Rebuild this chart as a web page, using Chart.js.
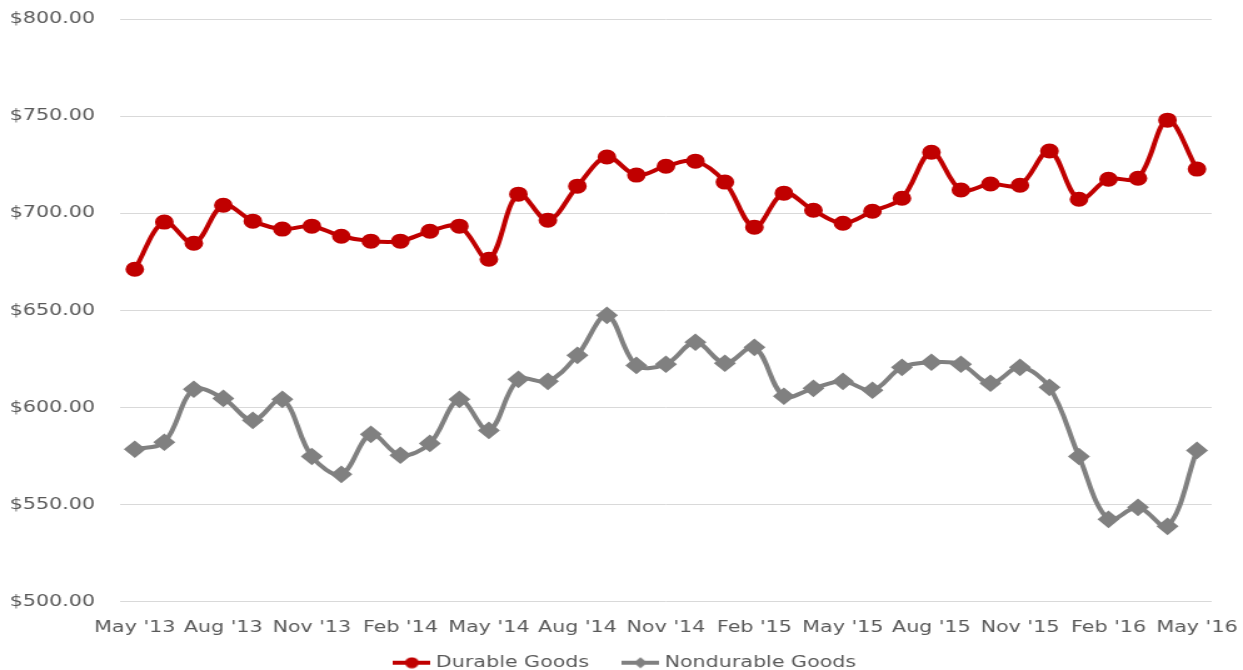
<!DOCTYPE html>
<html>
<head>
<meta charset="utf-8">
<script src="https://cdn.jsdelivr.net/npm/chart.js@4/dist/chart.umd.min.js"></script>
<style>
html,body{margin:0;padding:0;background:#fff;overflow:hidden;}
#wrap{width:994px;height:670px;position:relative;transform:scaleX(1.2505);transform-origin:0 0;}
</style>
</head>
<body>
<div id="wrap"><canvas id="c"></canvas></div>
<script>
const categories = ["May '13","Jun '13","Jul '13","Aug '13","Sep '13","Oct '13","Nov '13","Dec '13","Jan '14","Feb '14","Mar '14","Apr '14","May '14","Jun '14","Jul '14","Aug '14","Sep '14","Oct '14","Nov '14","Dec '14","Jan '15","Feb '15","Mar '15","Apr '15","May '15","Jun '15","Jul '15","Aug '15","Sep '15","Oct '15","Nov '15","Dec '15","Jan '16","Feb '16","Mar '16","Apr '16","May '16"];
const durableGoods = [671.1,695.4,684.5,704.1,695.9,691.8,693.3,688.1,685.6,685.6,690.7,693.3,676.3,709.8,696.4,713.9,728.9,719.6,724.2,726.8,716.0,692.8,710.3,701.5,694.8,701.0,707.7,731.4,711.9,715.0,714.4,732.0,707.2,717.5,718.0,747.9,722.7];
const nondurableGoods = [578.4,582.0,609.3,604.6,593.3,604.1,574.7,565.5,586.1,575.3,581.4,604.1,588.1,614.4,613.4,626.8,647.4,621.6,622.2,633.5,622.7,630.9,605.7,609.8,613.4,608.8,620.6,623.2,622.2,612.4,620.6,610.3,574.7,542.3,548.5,538.7,577.8];
const yTicks = [500,550,600,650,700,750,800];

const RED = '#C00000', GRAY = '#808080', TXT = '#595959';
const FONT = 'DejaVu Sans';

function legendIcon(color, style){
  const cv = document.createElement('canvas');
  cv.width = 30; cv.height = 12;
  const g = cv.getContext('2d');
  g.strokeStyle = color; g.lineWidth = 4;
  g.beginPath(); g.moveTo(0,6); g.lineTo(30,6); g.stroke();
  g.fillStyle = color;
  g.beginPath();
  if (style === 'circle') { g.arc(15,6,5.5,0,Math.PI*2); }
  else { g.moveTo(15,0.5); g.lineTo(20.5,6); g.lineTo(15,11.5); g.lineTo(9.5,6); g.closePath(); }
  g.fill();
  return cv;
}
const icons = [legendIcon(RED,'circle'), legendIcon(GRAY,'diamond')];

const legendShift = {
  id: 'legendShift',
  afterLayout(chart){
    const lg = chart.legend;
    if (lg) { lg.left += 17; lg.right += 17; lg.top -= 17; lg.bottom -= 17; }
  }
};

new Chart(document.getElementById('c'), {
  type: 'line',
  data: {
    labels: categories,
    datasets: [
      {label:'Durable Goods', data: durableGoods, borderColor: RED, backgroundColor: RED, borderWidth: 4,
       pointStyle:'circle', pointRadius: 5.5, pointHoverRadius: 5.5, tension: 0.35},
      {label:'Nondurable Goods', data: nondurableGoods, borderColor: GRAY, backgroundColor: GRAY, borderWidth: 4,
       pointStyle:'rectRot', pointRadius: 6, pointHoverRadius: 6, tension: 0.35}
    ]
  },
  plugins: [legendShift],
  options: {
    responsive: true, maintainAspectRatio: false, animation: false,
    layout: {padding: {top: 19, right: 25, left: 0, bottom: -28}},
    plugins: {
      title: {display: false},
      tooltip: {enabled: false},
      legend: {
        position: 'bottom',
        labels: {
          color: TXT, font: {family: FONT, size: 16.5}, usePointStyle: true, pointStyleWidth: 22, padding: 30,
          generateLabels(chart){
            return chart.data.datasets.map((ds,i)=>({
              text: ds.label, fillStyle: ds.borderColor, strokeStyle: ds.borderColor, lineWidth: 0,
              pointStyle: icons[i], datasetIndex: i, hidden: false, fontColor: TXT
            }));
          }
        }
      }
    },
    scales: {
      x: {
        offset: true,
        grid: {display: false, drawTicks: false},
        border: {display: false},
        ticks: {
          color: TXT, font: {family: FONT, size: 16.5}, autoSkip: false, maxRotation: 0, minRotation: 0, padding: 16,
          callback(v, i){ return i % 3 === 0 ? categories[i] : ''; }
        },
        afterFit(s){ s.height = 40; s.paddingLeft = 0; s.paddingRight = 0; }
      },
      y: {
        min: 500, max: 800,
        afterBuildTicks(s){ s.ticks = yTicks.map(v=>({value:v})); },
        grid: {color: '#d9d9d9', lineWidth: 1, drawTicks: false},
        border: {display: false},
        ticks: {
          color: TXT, font: {family: FONT, size: 16.5}, padding: 20,
          callback(v){ return '$' + Number(v).toFixed(2); }
        },
        afterFit(s){ s.width = 96; s.paddingTop = 0; s.paddingBottom = 0; }
      }
    }
  }
});
</script>
</body>
</html>
